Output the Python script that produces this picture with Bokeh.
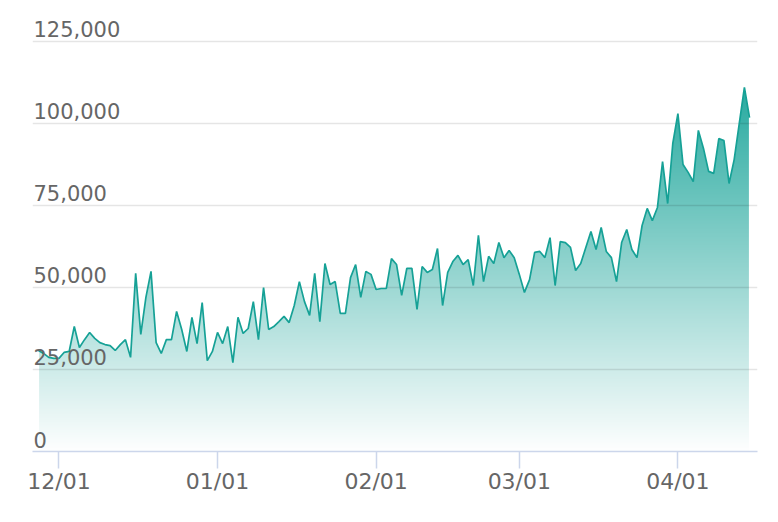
import numpy as np
import pandas as pd
from bokeh.plotting import figure
from bokeh.models import FixedTicker, DatetimeTickFormatter, Range1d
from bokeh.embed import file_html
from bokeh.resources import INLINE
from bokeh.core.properties import value

# ---------------- data ----------------
start_date = "2022-11-27"
visits = [
    30800, 29900, 28700, 28400, 28400, 30200, 30500, 38100, 31700, 34100,
    36300, 34500, 33200, 32600, 32300, 30800, 32600, 34100, 28700, 54300,
    35700, 47000, 54900, 33200, 29900, 34100, 34100, 42700, 37200, 30500,
    40900, 32900, 45400, 27700, 30500, 36300, 32900, 38100, 27100, 40900,
    36000, 37500, 45700, 34100, 50000, 37200, 38100, 39600, 41200, 39300,
    44500, 51800, 45700, 41500, 54300, 39600, 57300, 50900, 51800, 42100,
    42100, 53000, 57000, 47000, 54900, 54000, 49400, 49700, 49700, 58800,
    57000, 47600, 55800, 55800, 43300, 56400, 54600, 55500, 61900, 44500,
    54600, 57900, 59800, 57000, 58500, 50600, 65900, 51800, 59500, 57300,
    63700, 59100, 61300, 59100, 54000, 48500, 52400, 60700, 61000, 59100,
    65200, 50600, 64000, 63700, 62200, 55200, 57300, 62200, 67100, 61600,
    68300, 61000, 59100, 51800, 63700, 67700, 61600, 59100, 68900, 74100,
    70400, 74400, 88400, 75600, 93900, 103000, 87500, 85100, 82300, 97900,
    92400, 85400, 84800, 95400, 94800, 81700, 89000, 100000, 111000, 101800,
]
dates = pd.date_range(start_date, periods=len(visits), freq="D")

y_ticks = [0, 25000, 50000, 75000, 100000, 125000]
y_tick_labels = ["0", "25,000", "50,000", "75,000", "100,000", "125,000"]
x_tick_dates = ["2022-12-01", "2023-01-01", "2023-02-01", "2023-03-01", "2023-04-01"]
x_tick_labels = ["12/01", "01/01", "02/01", "03/01", "04/01"]

# ---------------- figure ----------------
DAY = 86400000.0
x0 = dates[0].value / 1e6
x1 = dates[-1].value / 1e6
y_top = 131400

p = figure(width=767, height=508, x_axis_type="datetime",
           output_backend="svg", toolbar_location=None,
           x_range=Range1d(x0 - 1.17 * DAY, x1 + 1.56 * DAY),
           y_range=Range1d(0, y_top),
           min_border_left=32, min_border_right=10,
           min_border_top=20, min_border_bottom=57)
p.outline_line_color = None
p.background_fill_color = "white"
p.border_fill_color = "white"

# gradient fill (image) masked above the curve with white
line_rgb = (22, 163, 152)
img_top = max(visits) * 1.02
nrows = 512
row_vals = (np.arange(nrows) + 0.5) / nrows * img_top
alpha = np.clip(row_vals / max(visits), 0, 1) * 0.92
img = np.zeros((nrows, 2), dtype=np.uint32)
view = img.view(dtype=np.uint8).reshape((nrows, 2, 4))
for c in range(3):
    col = 255 - alpha * (255 - line_rgb[c])
    view[:, :, c] = np.repeat(col[:, None], 2, axis=1).astype(np.uint8)
view[:, :, 3] = 255
pad = 0.12 * DAY
p.image_rgba(image=[img], x=x0 + pad, y=0, dw=x1 - x0 - 2 * pad, dh=img_top,
             level="image")
p.varea(x=dates, y1=visits, y2=[y_top * 1.2] * len(visits),
        fill_color="white", level="image")

# grid
p.xgrid.visible = False
p.ygrid.ticker = FixedTicker(ticks=y_ticks)
p.ygrid.grid_line_color = "black"
p.ygrid.grid_line_alpha = 0.1
p.ygrid.grid_line_width = 1.5

# line
p.line(dates, visits, line_color="#16a196", line_width=1.7)

# y axis hidden, labels inside plot
p.yaxis.visible = False
p.text(x=[x0 - 1.17 * DAY] * len(y_ticks), y=y_ticks, text=y_tick_labels,
       x_offset=1, y_offset=-4, text_baseline="bottom", text_align="left",
       text_font=value("DejaVu Sans"), text_font_size="21px",
       text_color="#666666")

# x axis
xa = p.xaxis[0]
xa.ticker = FixedTicker(ticks=[pd.Timestamp(d).value / 1e6 for d in x_tick_dates])
fmt = "%m/%d"
xa.formatter = DatetimeTickFormatter(days=fmt, months=fmt, years=fmt,
                                     hours=fmt, minutes=fmt)
xa.axis_line_color = "#ccd6eb"
xa.axis_line_width = 1.5
xa.major_tick_line_color = "#ccd6eb"
xa.major_tick_line_width = 1.5
xa.major_tick_out = 17
xa.major_tick_in = 0
xa.minor_tick_line_color = None
xa.major_label_standoff = 0
xa.major_label_text_font = "DejaVu Sans"
xa.major_label_text_font_size = "22px"
xa.major_label_text_color = "#666666"

open("out.html", "w").write(file_html(p, INLINE))
